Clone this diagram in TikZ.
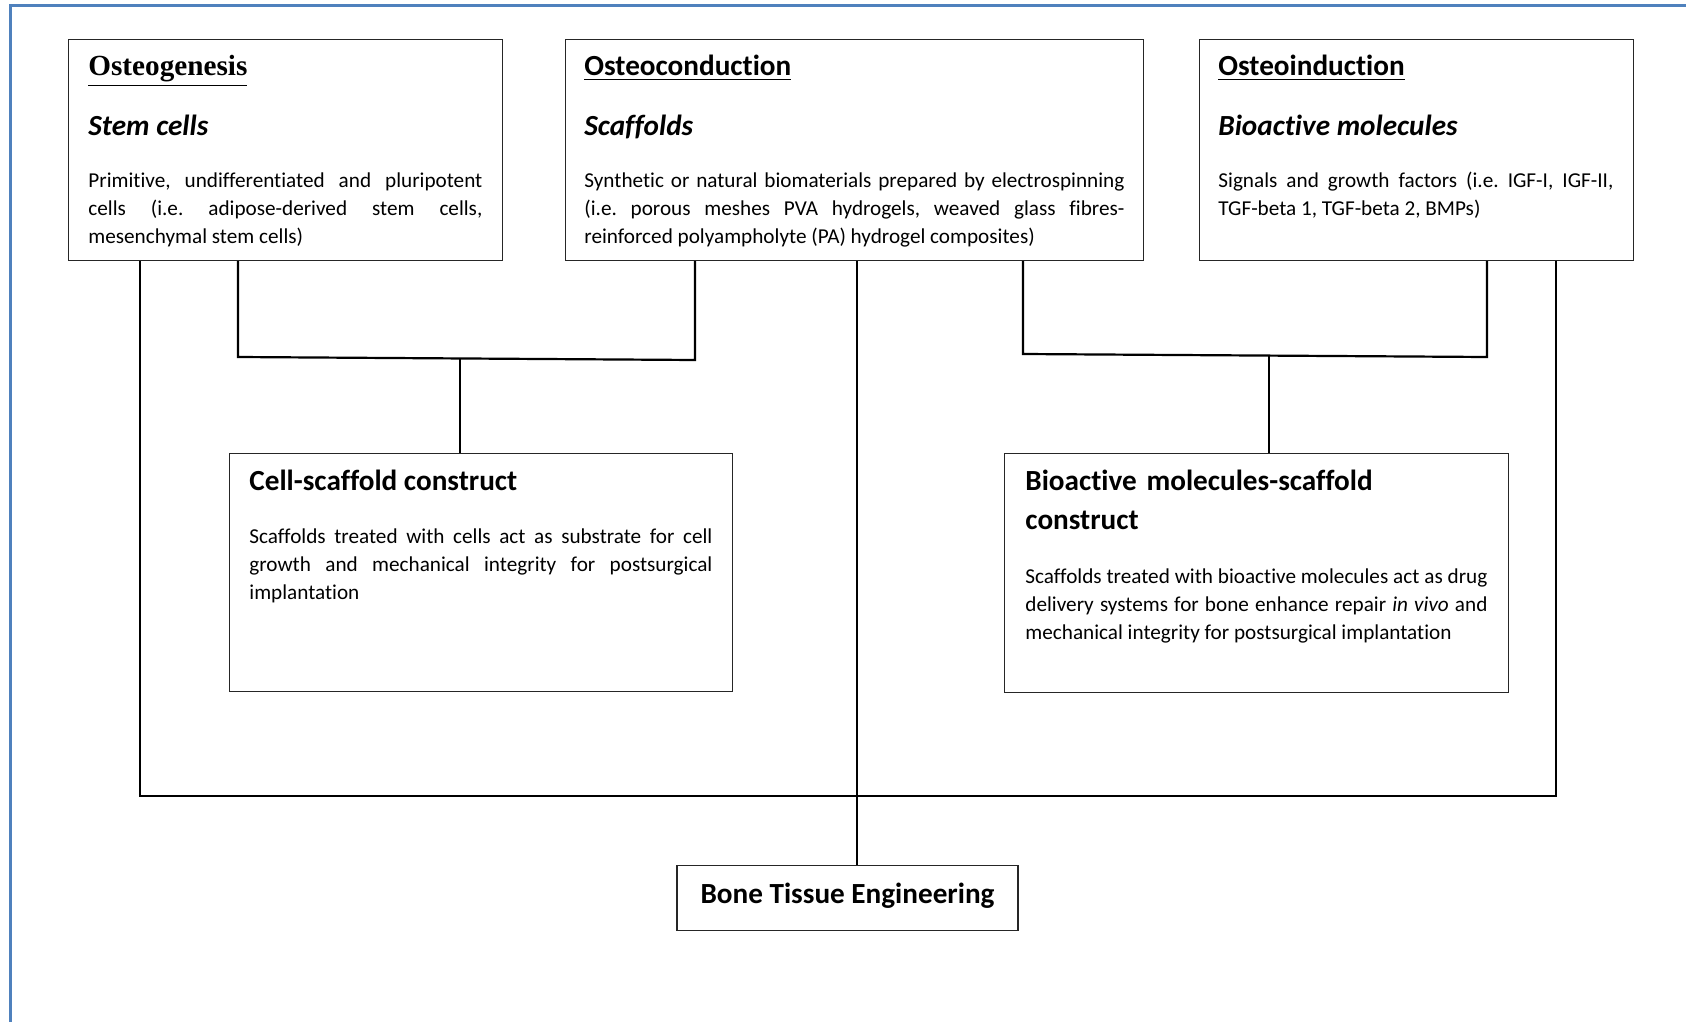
\documentclass[tikz,border=0pt]{standalone}
\usepackage{fontspec}
\setmainfont{Carlito}[Ligatures=NoCommon]
\newfontfamily\timesfont{Liberation Serif}
\usetikzlibrary{positioning}
\definecolor{frameblue}{RGB}{79,129,189}
\newcommand{\bodysize}{\fontsize{10.6}{14}\selectfont\frenchspacing}
\newcommand{\headsize}{\fontsize{14.6}{19.5}\selectfont\bfseries}

\begin{document}
\begin{tikzpicture}[x=0.5pt,y=-0.5pt,
  panel/.style={draw=black!85, line width=0.6pt, anchor=north west, inner sep=0pt},
  title/.style={anchor=base west, inner sep=0pt, font=\headsize},
  body/.style={anchor=base west, inner sep=0pt, font=\bodysize, align=justify},
  link/.style={line width=1.1pt}]
\useasboundingbox (0,0) rectangle (1686,1022);

% page frame
\draw[frameblue, line width=1.5pt] (10.5,1022) -- (10.5,5.5) -- (1686,5.5);

% top row
\node (og) [panel, minimum width=217pt, minimum height=110.5pt] at (68,39) {};
\node (oc) [panel, minimum width=289pt, minimum height=110.5pt] at (565,39) {};
\node (oi) [panel, minimum width=217pt, minimum height=110.5pt] at (1199,39) {};

\node (og-title) [title] at (88,76) {\timesfont\underline{Osteogenesis}};
\node (og-sub) [title] at (88,135) {\itshape Stem cells};
\node (og-body) [body, text width=197pt] at (88,187)
  {Primitive, undifferentiated and pluripotent\linebreak
   cells (i.e. adipose-derived stem cells,\linebreak
   mesenchymal stem cells)};

\node (oc-title) [title] at (584,76) {\underline{Osteoconduction}};
\node (oc-sub) [title] at (584,135) {\itshape Scaffolds};
\node (oc-body) [body, text width=270pt] at (584,187)
  {Synthetic or natural biomaterials prepared by electrospinning\linebreak
   (i.e. porous meshes PVA hydrogels, weaved glass fibres-\linebreak
   reinforced polyampholyte (PA) hydrogel composites)};

\node (oi-title) [title] at (1218,76) {\underline{Osteoinduction}};
\node (oi-sub) [title] at (1218,135) {\itshape Bioactive molecules};
\node (oi-body) [body, text width=197.5pt] at (1218,187)
  {Signals and growth factors (i.e. IGF-I, IGF-II,\linebreak
   TGF-beta 1, TGF-beta 2, BMPs)};

% constructs
\node (cs) [panel, minimum width=251.5pt, minimum height=119pt] at (229,453) {};
\node (bm) [panel, minimum width=252pt, minimum height=119.5pt] at (1004,453) {};

\node (cs-title) [title] at (249,490) {Cell-scaffold construct};
\node (cs-body) [body, text width=231.5pt] at (249,543)
  {Scaffolds treated with cells act as substrate for cell\linebreak
   growth and mechanical integrity for postsurgical\linebreak
   implantation};

\node (bm-title) [title, text width=231pt, align=left] at (1025,490)
  {Bioactive molecules-scaffold\\construct};
\node (bm-body) [body, text width=231pt] at (1025,583)
  {Scaffolds treated with bioactive molecules act as drug\linebreak
   delivery systems for bone enhance repair \textit{in vivo} and\linebreak
   mechanical integrity for postsurgical implantation};

% goal
\node (bte) [panel, anchor=north, minimum width=170.5pt, minimum height=32.5pt,
  text height=9pt, text depth=4pt, font=\headsize] at (847.5,865) {Bone Tissue Engineering};

% connectors
\coordinate (jcs1) at (238,357);
\coordinate (jcs2) at (695,360);
\coordinate (jcs) at (460,358.5);
\coordinate (jbm1) at (1023,354);
\coordinate (jbm2) at (1487,357);
\coordinate (jbm) at (1269,355.5);
\coordinate (jall1) at (140,796);
\coordinate (jall2) at (1556,796);
\coordinate (spine) at (857,796);

\draw[link] (og.south -| jcs1) -- (jcs1) -- (jcs2) -- (oc.south -| jcs2);
\draw[link] (jcs) -- (cs.north -| jcs);
\draw[link] (oc.south -| jbm1) -- (jbm1) -- (jbm2) -- (oi.south -| jbm2);
\draw[link] (jbm) -- (bm.north -| jbm);
\draw[link] (og.south -| jall1) -- (jall1) -- (jall2) -- (oi.south -| jall2);
\draw[link] (oc.south -| spine) -- (spine |- bte.north);

\end{tikzpicture}
\end{document}
